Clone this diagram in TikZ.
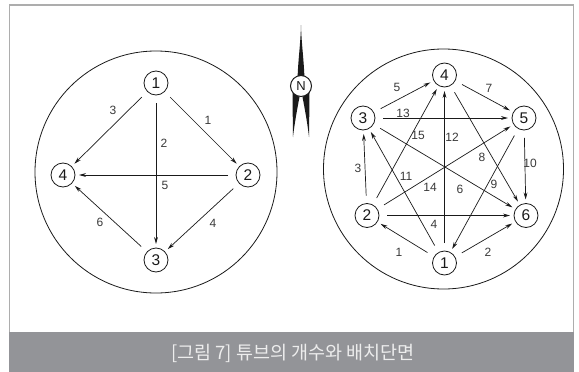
\documentclass[tikz,border=0pt]{standalone}
\usepackage{fontspec}
\setmainfont{Liberation Sans}
\newfontfamily\krfont{Noto Sans CJK KR}
\usetikzlibrary{arrows.meta}
\definecolor{capgray}{HTML}{939498}
\definecolor{framegray}{HTML}{ADADAD}
\definecolor{captext}{HTML}{EDEDED}
\definecolor{ink}{HTML}{1A1A1A}
\definecolor{labink}{HTML}{3A3A3A}
\begin{document}
\begin{tikzpicture}[x=1pt,y=-1pt,
  tube/.style={circle,draw=ink,line width=0.8pt,minimum size=24pt,inner sep=0pt,outer sep=4pt,font=\fontsize{15.5}{15.5}\selectfont,text=ink},
  pipe/.style={draw=ink,line width=0.7pt,shorten <=4pt,-{Stealth[length=7pt,width=3.8pt]}},
  lab/.style={font=\fontsize{12}{12}\selectfont,text=labink,inner sep=0pt},
  ring/.style={circle,draw=ink,line width=0.8pt,inner sep=0pt},
]
\useasboundingbox (0,0) rectangle (579,372);
\fill[white] (0,0) rectangle (579,372);
\draw[framegray,line width=1.4pt] (9.5,372) -- (9.5,5) -- (573.5,5) -- (573.5,372);
\fill[capgray] (8.8,332) rectangle (574.2,372);
\node[inner sep=0pt] (cap) at (293,353) {\krfont\fontsize{18.5}{18.5}\selectfont\color{captext}[그림 7] 튜브의 개수와 배치단면};

% left
\node[ring,minimum size=242pt] (Lring) at (156,172) {};
\node[tube] (a1) at (156,83) {1};
\node[tube] (a2) at (248,175) {2};
\node[tube] (a3) at (156,260) {3};
\node[tube] (a4) at (63,175) {4};
\draw[pipe] (a1) -- (a2);
\draw[pipe] (a1) -- (a3);
\draw[pipe] (a1) -- (a4);
\draw[pipe] (a2) -- (a4);
\draw[pipe] (a2) -- (a3);
\draw[pipe] (a3) -- (a4);
\node[lab] (la1) at (208,120) {1};
\node[lab] (la2) at (164,143) {2};
\node[lab] (la3) at (113,110) {3};
\node[lab] (la4) at (213,223) {4};
\node[lab] (la5) at (165,185) {5};
\node[lab] (la6) at (100,222) {6};

% compass
\fill[ink] (301,25) .. controls (300.5,45) and (298,60) .. (297.5,80) -- (304.5,80) .. controls (304,60) and (301.5,45) .. (301,25) -- cycle;
\fill[ink] (292.5,92) -- (299.5,97) .. controls (296,115) and (294,128) .. (293,137) .. controls (293,125) and (292.5,110) .. (292.5,92) -- cycle;
\fill[ink] (309.5,92) -- (302.5,97) .. controls (306,115) and (308,128) .. (309,137) .. controls (309,125) and (309.5,110) .. (309.5,92) -- cycle;
\node[circle,draw=ink,fill=white,line width=1pt,minimum size=21pt,inner sep=0pt,font=\fontsize{13}{13}\selectfont,text=ink] (N) at (301,86) {N};

% right
\node[ring,minimum size=240pt] (Rring) at (443.5,169) {};
\node[tube] (b1) at (444.5,263) {1};
\node[tube] (b2) at (367,215.5) {2};
\node[tube] (b3) at (363,118) {3};
\node[tube] (b4) at (444.5,75) {4};
\node[tube] (b5) at (524,118) {5};
\node[tube] (b6) at (526,215.5) {6};
\draw[pipe] (b1) -- (b2);
\draw[pipe] (b1) -- (b6);
\draw[pipe] (b2) -- (b3);
\draw[pipe] (b2) -- (b6);
\draw[pipe] (b3) -- (b4);
\draw[pipe] (b3) -- (b6);
\draw[pipe] (b4) -- (b5);
\draw[pipe] (b4) -- (b6);
\draw[pipe] (b5) -- (b1);
\draw[pipe] (b5) -- (b6);
\draw[pipe] (b1) -- (b3);
\draw[pipe] (b1) -- (b4);
\draw[pipe] (b3) -- (b5);
\draw[pipe] (b2) -- (b5);
\draw[pipe] (b2) -- (b4);
\node[lab] (lb1) at (399,252) {1};
\node[lab] (lb2) at (488,252) {2};
\node[lab] (lb3) at (358,168) {3};
\node[lab] (lb4) at (434,224) {4};
\node[lab] (lb5) at (397,87) {5};
\node[lab] (lb6) at (460,189) {6};
\node[lab] (lb7) at (489,88) {7};
\node[lab] (lb8) at (482,157) {8};
\node[lab] (lb9) at (494,184) {9};
\node[lab] (lb10) at (530,163) {10};
\node[lab] (lb11) at (406,176) {11};
\node[lab] (lb12) at (452,137) {12};
\node[lab] (lb13) at (403,113) {13};
\node[lab] (lb14) at (430,187) {14};
\node[lab] (lb15) at (418,135) {15};
\end{tikzpicture}
\end{document}
